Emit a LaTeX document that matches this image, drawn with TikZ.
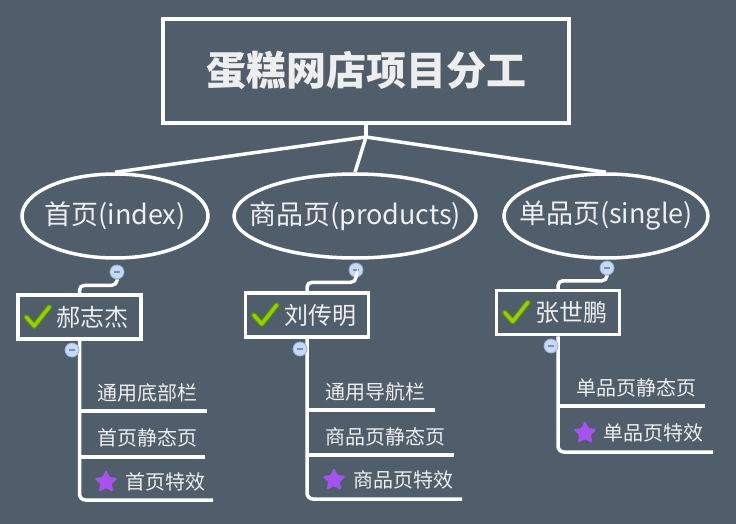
\documentclass[tikz,border=0pt]{standalone}
\usepackage{fontspec}
\setmainfont{Noto Sans CJK SC}
\usetikzlibrary{shapes.geometric,calc}
\definecolor{bg}{RGB}{80,93,107}
\definecolor{txt}{RGB}{238,238,238}
\definecolor{cfill}{RGB}{198,217,246}
\definecolor{cdraw}{RGB}{150,178,222}
\definecolor{cminus}{RGB}{120,145,190}
\definecolor{starc}{RGB}{165,82,240}
\definecolor{chkdark}{RGB}{95,150,0}
\definecolor{chklight}{RGB}{150,208,0}
\tikzset{
  conn/.style={draw=white, line width=3.5},
  ell/.style={ellipse, draw=white, line width=3.5, inner sep=0, minimum height=84,
              text=txt, font=\fontsize{27}{32}\selectfont},
  person/.style={rectangle, draw=white, line width=3.5, inner xsep=12, inner ysep=0,
                 minimum height=44, text=txt, font=\fontsize{24}{28}\selectfont},
  minusc/.style={circle, fill=cfill, draw=cdraw, line width=0.8, minimum size=14, inner sep=0,
                 path picture={\draw[cminus, line width=1.1] ([xshift=-3]path picture bounding box.center) -- ([xshift=3]path picture bounding box.center);}},
  item/.style={anchor=west, inner sep=0, text=txt, font=\fontsize{20}{24}\selectfont},
  starn/.style={star, star points=5, star point ratio=2.1, fill=starc, draw=starc, line width=1,
                rounded corners=1.2, minimum size=23, inner sep=0},
  chkout/.style={draw=chkdark, line width=5.5, line cap=round, line join=round},
  chkin/.style={draw=chklight, line width=3.3, line cap=round, line join=round},
}
\begin{document}
\begin{tikzpicture}[x=1pt,y=-1pt]
\fill[bg] (0,0) rectangle (736,524);
\useasboundingbox (0,0) rectangle (736,524);

% title
\node[draw=white, line width=4, minimum width=406, minimum height=104, text=txt,
      font=\fontsize{40}{48}\selectfont\bfseries] (title) at (366,71) {蛋糕网店项目分工};
\coordinate (J) at (366,137);

% level 1
\node[ell, minimum width=186] (e1) at (115,216) {\makebox[0pt]{首页(index)}};
\node[ell, minimum width=242] (e2) at (355,216) {\makebox[0pt]{商品页(products)}};
\node[ell, minimum width=204] (e3) at (606,216) {\makebox[0pt]{单品页(single)}};

\draw[conn] (title.south) -- (J);
\draw[conn] (J) -- (e1.north);
\draw[conn] (J) -- (e2.north);
\draw[conn] (J) -- (e3.north);

% level 2 boxes
\node[person] (p1) at (79.5,317) {\hspace*{27pt}郝志杰};
\node[person] (p2) at (307,315) {\hspace*{27pt}刘传明};
\node[person] (p3) at (558,312.5) {\hspace*{27pt}张世鹏};

\foreach \p in {p1,p2,p3}{
  \draw[chkout] ($(\p.west)+(10,0)$) -- ++(8,9) -- ++(15,-19);
  \draw[chkin]  ($(\p.west)+(10,0)$) -- ++(8,9) -- ++(15,-19);
}

% collapse circles under ellipses
\node[minusc] (c1a) at (117,272) {};
\node[minusc] (c2a) at (356,270) {};
\node[minusc] (c3a) at (607,268) {};

\draw[conn, rounded corners=5] (c1a.south) |- ($(p1.north)+(0,-8)$) -- (p1.north);
\draw[conn, rounded corners=5] (c2a.south) |- ($(p2.north)+(0,-9)$) -- (p2.north);
\draw[conn, rounded corners=5] (c3a.south) |- ($(p3.north)+(0,-8)$) -- (p3.north);

% group 1
\coordinate (g1a) at (207,411);
\coordinate (g1b) at (205,457);
\coordinate (g1c) at (213,500);
\draw[conn, rounded corners=6] (p1.south) |- (g1c);
\draw[conn] (p1.south |- g1a) -- (g1a);
\draw[conn] (p1.south |- g1b) -- (g1b);
\node[minusc] (c1b) at (72,350) {};
\node[item] (i11) at (97,393) {通用底部栏};
\node[item] (i12) at (97,438) {首页静态页};
\node[starn] (s1) at (106,482) {};
\node[item] (i13) at (125,482) {首页特效};

% group 2
\coordinate (g2a) at (435,410);
\coordinate (g2b) at (454,455);
\coordinate (g2c) at (462,499);
\draw[conn, rounded corners=6] (p2.south) |- (g2c);
\draw[conn] (p2.south |- g2a) -- (g2a);
\draw[conn] (p2.south |- g2b) -- (g2b);
\node[minusc] (c2b) at (300,349) {};
\node[item] (i21) at (325,392) {通用导航栏};
\node[item] (i22) at (325,437) {商品页静态页};
\node[starn] (s2) at (334,480) {};
\node[item] (i23) at (353,480) {商品页特效};

% group 3
\coordinate (g3a) at (705,406);
\coordinate (g3b) at (713,452);
\draw[conn, rounded corners=6] (p3.south) |- (g3b);
\draw[conn] (p3.south |- g3a) -- (g3a);
\node[minusc] (c3b) at (551,346) {};
\node[item] (i31) at (576,388) {单品页静态页};
\node[starn] (s3) at (585,433) {};
\node[item] (i32) at (603,433) {单品页特效};
\end{tikzpicture}
\end{document}
